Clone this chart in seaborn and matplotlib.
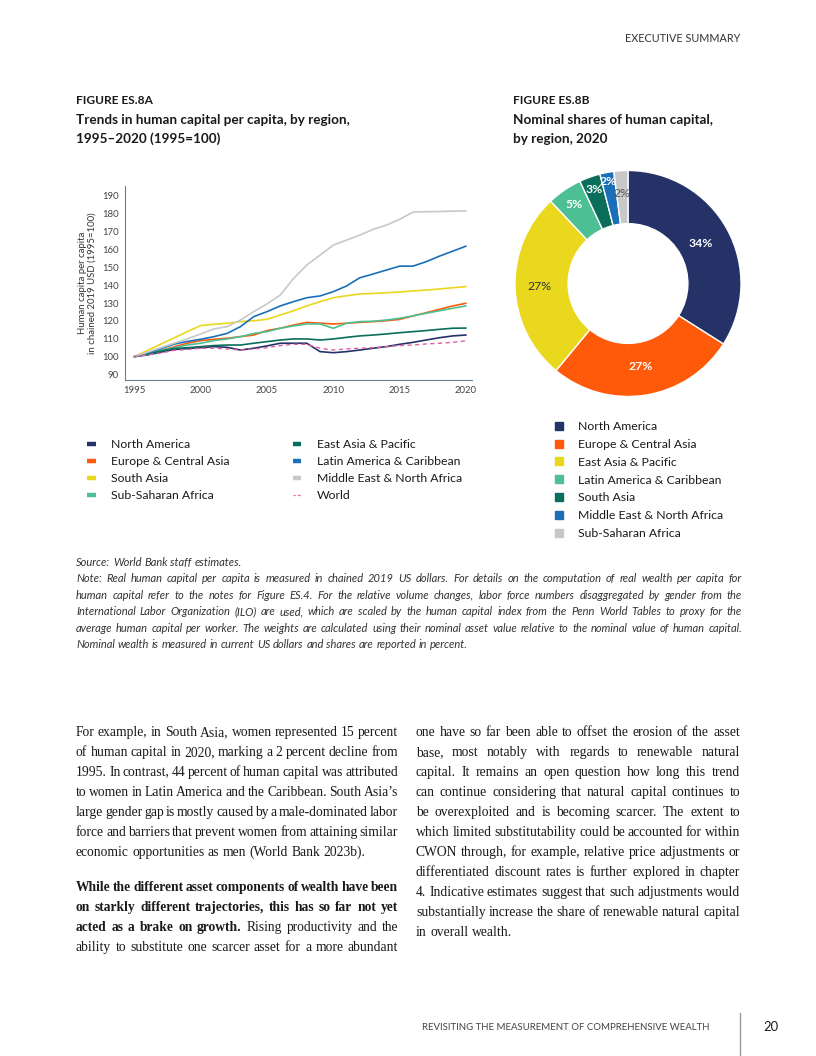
import matplotlib
matplotlib.use("Agg")
import matplotlib.pyplot as plt
import numpy as np
import pandas as pd
import seaborn as sns
from matplotlib.lines import Line2D

# ---- data -------------------------------------------------------------
years = list(range(1995, 2021))

north_america = [100, 101, 102.5, 104, 104.5, 105, 105.6, 105.2, 103.7, 104.7, 106, 107.5, 107.5,
                 107.5, 102.8, 102.2, 102.8, 103.7, 104.7, 105.6, 106.9, 108, 109.3, 110.6, 111.6, 112.1]
europe_central_asia = [100, 101.5, 103.5, 105.5, 107.5, 109, 109.7, 110.3, 111.2, 112.1, 114.6, 115.9, 117.7,
                       119.2, 118.7, 118.3, 118.7, 119.2, 119.6, 120.1, 120.9, 122.8, 124.6, 126.5, 128.4, 129.9]
south_asia = [100, 103.5, 107, 110.5, 114, 117.4, 118.1, 118.7, 119.6, 120.1, 120.9, 123.3, 125.7,
              128.4, 130.8, 133, 134.1, 135.1, 135.4, 135.8, 136.2, 136.8, 137.3, 137.9, 138.6, 139.2]
sub_saharan_africa = [100, 101.5, 103.5, 105, 106.5, 107.5, 109, 109.9, 111.2, 113, 114, 115.9, 117.2,
                      118.3, 118.3, 115.9, 118.7, 119.6, 119.8, 120.5, 121.5, 122.8, 124.3, 125.7, 127.1, 128.4]
east_asia_pacific = [100, 101.5, 103, 104.5, 105, 105.6, 106.2, 106.5, 106.5, 107.5, 108.4, 109.3, 109.9,
                     109.9, 109.3, 109.9, 110.8, 111.6, 112.1, 112.7, 113.4, 114, 114.6, 115.3, 115.9, 116]
latin_america = [100, 102, 104.5, 107, 108.5, 109.7, 111.2, 113, 116.8, 122.4, 125.2, 128.4, 130.8,
                 133, 134, 136.4, 139.6, 144.2, 146.3, 148.5, 150.7, 150.7, 153.2, 156.3, 159.1, 161.9]
middle_east = [100, 102.5, 105, 107.5, 110, 112.7, 115.5, 116.8, 120.5, 125.2, 129.5, 134.5, 143.8,
               151.3, 156.9, 162.5, 165.3, 168.1, 171.3, 173.7, 176.9, 181, 181.2, 181.3, 181.5, 181.7]
world = [100, 101, 102, 103.5, 104, 104.7, 104.7, 104.3, 103.7, 104.3, 105, 106.2, 106.9,
         106.9, 104.7, 103.7, 104.3, 104.7, 105, 105.6, 106.2, 106.5, 107.1, 107.5, 108, 108.8]

line_regions = ["North America", "Europe & Central Asia", "South Asia", "Sub-Saharan Africa",
                "East Asia & Pacific", "Latin America & Caribbean", "Middle East & North Africa", "World"]
line_series = [north_america, europe_central_asia, south_asia, sub_saharan_africa,
               east_asia_pacific, latin_america, middle_east, world]

pie_regions = ["North America", "Europe & Central Asia", "East Asia & Pacific", "Latin America & Caribbean",
               "South Asia", "Middle East & North Africa", "Sub-Saharan Africa"]
pie_shares = [34, 27, 27, 5, 3, 2, 2]

# ---- styles -----------------------------------------------------------
NAVY, ORANGE, YELLOW, MINT = "#253268", "#FF5A0A", "#E9D81D", "#4CBF94"
TEAL, BLUE, GRAY, PINK = "#0B6E5C", "#1A6FB8", "#C8C8C8", "#E060A0"

line_colors = {
    "North America": NAVY, "Europe & Central Asia": ORANGE, "South Asia": YELLOW,
    "Sub-Saharan Africa": MINT, "East Asia & Pacific": TEAL, "Latin America & Caribbean": BLUE,
    "Middle East & North Africa": GRAY, "World": PINK,
}
pie_colors = [NAVY, ORANGE, YELLOW, MINT, TEAL, BLUE, GRAY]
pie_label_radius = [0.73, 0.74, 0.78, 0.85, 0.88, 0.92, 0.80]
pie_label_colors = ["white", "white", "#333333", "white", "white", "white", "#555555"]

sns.set_theme(style="white")
plt.rcParams["font.family"] = ["Lato", "DejaVu Sans"]

W, H = 816, 1056
fig = plt.figure(figsize=(W / 100, H / 100), dpi=100)


def fx(x):
    return x / W


def fy(y):
    return 1 - y / H


TXT = "#1a1a1a"

# ---- header / titles ---------------------------------------------------
fig.text(fx(740), fy(39), "EXECUTIVE SUMMARY", fontsize=7.8, color="#333333", ha="right", va="center")

fig.text(fx(76), fy(100), "FIGURE ES.8A", fontsize=8.6, weight="bold", color=TXT, va="center")
fig.text(fx(76), fy(120), "Trends in human capital per capita, by region,", fontsize=9.7, weight="bold",
         color=TXT, va="center")
fig.text(fx(76), fy(139), "1995\u20132020 (1995=100)", fontsize=9.7, weight="bold", color=TXT, va="center")

fig.text(fx(513), fy(100), "FIGURE ES.8B", fontsize=8.6, weight="bold", color=TXT, va="center")
fig.text(fx(513), fy(120), "Nominal shares of human capital,", fontsize=9.7, weight="bold", color=TXT, va="center")
fig.text(fx(513), fy(139), "by region, 2020", fontsize=9.7, weight="bold", color=TXT, va="center")

# ---- line chart ---------------------------------------------------------
df = pd.DataFrame({
    "year": np.tile(years, len(line_regions)),
    "value": np.concatenate(line_series),
    "region": np.repeat(line_regions, len(years)),
})

ax = fig.add_axes([fx(125), fy(380), fx(472) - fx(125), fy(186) - fy(380)])
dash_map = {r: "" for r in line_regions}
dash_map["World"] = (3, 2.5)
sns.lineplot(data=df, x="year", y="value", hue="region", style="region", palette=line_colors,
             dashes=dash_map, hue_order=line_regions, style_order=line_regions,
             linewidth=1.2, legend=False, ax=ax)
for ln in ax.get_lines():
    if ln.get_color() == PINK:
        ln.set_linewidth(1.0)

ax.set_xlim(1994.3, 2020.45)
ax.set_ylim(86.9, 195.6)
ax.set_xticks(range(1995, 2021, 5))
ax.set_yticks(range(90, 200, 10))
ax.set_xlabel("")
ax.set_ylabel("Human capita per capita\nin chained 2019 USD (1995=100)", fontsize=6.9, color="#333333",
              labelpad=4, linespacing=1.05)
ax.tick_params(axis="both", labelsize=6.9, colors="#8090a0", labelcolor="#444444", length=2.5,
               width=0.6, pad=2)
for side in ["top", "right"]:
    ax.spines[side].set_visible(False)
for side in ["left", "bottom"]:
    ax.spines[side].set_color("#6a7d94")
    ax.spines[side].set_linewidth(0.8)
ax.grid(False)

handles = []
for r in line_regions:
    if r == "World":
        handles.append(Line2D([], [], color=PINK, lw=0.9, ls=(0.5, (2.2, 1.8))))
    else:
        handles.append(Line2D([], [], color=line_colors[r], lw=3.2, solid_capstyle="butt"))
fig.legend(handles, line_regions, ncol=2, loc="upper left", bbox_to_anchor=(fx(87), fy(439)),
           frameon=False, fontsize=8.8, handlelength=0.7, handletextpad=1.25, labelspacing=0.5,
           columnspacing=5.2, labelcolor=TXT, borderaxespad=0, borderpad=0)

# ---- donut chart --------------------------------------------------------
R_PX = 113
pax = fig.add_axes([fx(628 - R_PX), fy(283.5 + R_PX), 2 * R_PX / W, 2 * R_PX / H])
wedges, _ = pax.pie(pie_shares, colors=pie_colors, startangle=90, counterclock=False, radius=1.0,
                    wedgeprops=dict(width=0.47, edgecolor="white", linewidth=1.0))
total = sum(pie_shares)
start = 90.0
for i, share in enumerate(pie_shares):
    span = 360.0 * share / total
    mid = np.deg2rad(start - span / 2)
    start -= span
    rr = pie_label_radius[i]
    pax.text(rr * np.cos(mid), rr * np.sin(mid), f"{share}%", ha="center", va="center",
             fontsize=8.8, color=pie_label_colors[i],
             weight="bold" if pie_label_colors[i] == "white" else "normal")
pax.set_xlim(-1, 1)
pax.set_ylim(-1, 1)
pax.set_aspect("equal")
pax.axis("off")

pie_handles = [Line2D([], [], marker="s", color=c, ls="none", markersize=5.2) for c in pie_colors]
fig.legend(pie_handles, pie_regions, loc="upper left", bbox_to_anchor=(fx(554), fy(421)),
           frameon=False, fontsize=8.8, handlelength=0.8, handletextpad=1.15, labelspacing=0.56,
           labelcolor=TXT, borderaxespad=0, borderpad=0)

# ---- justified text helpers ---------------------------------------------
renderer = fig.canvas.get_renderer()


def word_widths(words, size, family, style):
    out = []
    for w, wt in words:
        t = fig.text(0, 0, w, fontsize=size, family=family, weight=wt, style=style)
        out.append(t.get_window_extent(renderer).width)
        t.remove()
    return out


def fit_size(block, width, size, family, style="normal", gap_em=0.2):
    """One font size for a whole block, so every justified line keeps a sane word gap."""
    ratio = 1.0
    for words in block:
        ws = word_widths(words, size, family, style)
        min_gap = size * 100 / 72 * gap_em
        need = sum(ws) + min_gap * (len(ws) - 1)
        ratio = min(ratio, (width - min_gap * (len(ws) - 1)) / sum(ws) if need > width else 1.0)
    return size * ratio


def put_line(words, x0, x1, y, size, family, justify=True, style="normal", color=TXT):
    """words: list of (word, weight); y is the baseline in page pixels."""
    texts = [fig.text(0, fy(y), w, fontsize=size, family=family, weight=wt, style=style,
                      color=color, va="baseline") for w, wt in words]
    widths = [t.get_window_extent(renderer).width for t in texts]
    n = len(texts)
    if justify and n > 1:
        gap = (x1 - x0 - sum(widths)) / (n - 1)
    else:
        gap = size * 100 / 72 * 0.25
    x = x0
    for t, w in zip(texts, widths):
        t.set_x(fx(x))
        x += w + gap


def plain(line, weight="normal"):
    return [(w, weight) for w in line.split()]


# ---- source / note ------------------------------------------------------
note_lines = [
    "Note: Real human capital per capita is measured in chained 2019 US dollars. For details on the computation of real wealth per capita for",
    "human capital refer to the notes for Figure ES.4. For the relative volume changes, labor force numbers disaggregated by gender from the",
    "International Labor Organization (ILO) are used, which are scaled by the human capital index from the Penn World Tables to proxy for the",
    "average human capital per worker. The weights are calculated using their nominal asset value relative to the nominal value of human capital.",
    "Nominal wealth is measured in current US dollars and shares are reported in percent.",
]
note_blocks = [plain(l) for l in note_lines]
note_size = fit_size(note_blocks[:-1], 742 - 76, 8.0, ["Lato"], "italic")
put_line(plain("Source: World Bank staff estimates."), 76, 742, 566, note_size, ["Lato"], justify=False,
         style="italic", color="#333333")
for i, words in enumerate(note_blocks):
    put_line(words, 76, 742, 582 + i * 16.6, note_size, ["Lato"], justify=i < len(note_blocks) - 1,
             style="italic", color="#333333")

# ---- body text ----------------------------------------------------------
SERIF = ["Liberation Serif", "DejaVu Serif"]
left_par1 = [
    "For example, in South Asia, women represented 15 percent",
    "of human capital in 2020, marking a 2 percent decline from",
    "1995. In contrast, 44 percent of human capital was attributed",
    "to women in Latin America and the Caribbean. South Asia\u2019s",
    "large gender gap is mostly caused by a male-dominated labor",
    "force and barriers that prevent women from attaining similar",
    "economic opportunities as men (World Bank 2023b).",
]
left_par2 = [
    plain("While the different asset components of wealth have been", "bold"),
    plain("on starkly different trajectories, this has so far not yet", "bold"),
    plain("acted as a brake on growth.", "bold") + plain("Rising productivity and the"),
    plain("ability to substitute one scarcer asset for a more abundant"),
]
right_par = [
    "one have so far been able to offset the erosion of the asset",
    "base, most notably with regards to renewable natural",
    "capital. It remains an open question how long this trend",
    "can continue considering that natural capital continues to",
    "be overexploited and is becoming scarcer. The extent to",
    "which limited substitutability could be accounted for within",
    "CWON through, for example, relative price adjustments or",
    "differentiated discount rates is further explored in chapter",
    "4. Indicative estimates suggest that such adjustments would",
    "substantially increase the share of renewable natural capital",
    "in overall wealth.",
]
left1_words = [plain(l) for l in left_par1]
right_words = [plain(l) for l in right_par]
body = fit_size(left1_words[:-1] + right_words[:-1] + left_par2[3:], 323, 10.4, SERIF, gap_em=0.17)
body_bold = min(body, fit_size(left_par2[:3], 323, body, SERIF, gap_em=0.17))

for i, words in enumerate(left1_words):
    put_line(words, 76, 398, 736 + i * 20, body, SERIF, justify=i < len(left1_words) - 1)
for i, words in enumerate(left_par2):
    put_line(words, 76, 398, 891 + i * 20, body_bold if i < 3 else body, SERIF)
for i, words in enumerate(right_words):
    put_line(words, 416, 740, 736 + i * 20, body, SERIF, justify=i < len(right_words) - 1)

# ---- footer ---------------------------------------------------------------
fig.text(fx(709), fy(1027), "REVISITING THE MEASUREMENT OF COMPREHENSIVE WEALTH", fontsize=6.95,
         color="#444444", ha="right", va="center")
fig.add_artist(Line2D([fx(740), fx(740)], [fy(1013), fy(1056)], color="#999999", lw=1.0))
fig.text(fx(771), fy(1027), "20", fontsize=9.4, color=TXT, ha="center", va="center")

fig.savefig("out.png", dpi=100, facecolor="white")
